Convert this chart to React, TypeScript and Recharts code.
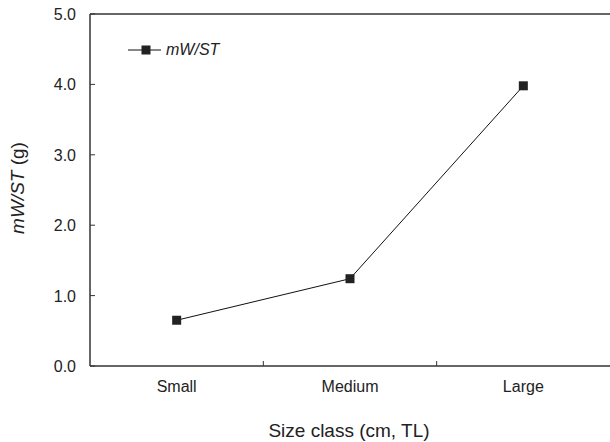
import { LineChart, Line, XAxis, YAxis, ReferenceLine } from "recharts";

const categories = ["Small", "Medium", "Large"];
const mwst = [0.65, 1.24, 3.98];
const yTicks = [0, 1, 2, 3, 4, 5];
const xTicks = [0.5, 1, 1.5, 2, 2.5];

const font = "'Liberation Sans', Arial, sans-serif";
const axisColor = "#333";
const textColor = "#222";

const data = categories.map((name, i) => ({ pos: i + 0.5, name, value: mwst[i] }));

const XTick = (props: any) => {
  const { x, y, payload } = props;
  if (Number.isInteger(payload.value)) {
    return <line x1={x} x2={x} y1={y} y2={y - 5} stroke={axisColor} strokeWidth={1} />;
  }
  return (
    <text x={x} y={y + 26} textAnchor="middle" fontSize={16} fontFamily={font} fill={textColor}>
      {categories[Math.floor(payload.value)]}
    </text>
  );
};

const YTick = (props: any) => {
  const { x, y, payload } = props;
  return (
    <g>
      <line x1={x} x2={x + 5} y1={y} y2={y} stroke={axisColor} strokeWidth={1} />
      <text x={x - 14} y={y + 6} textAnchor="end" fontSize={16} fontFamily={font} fill={textColor}>
        {payload.value.toFixed(1)}
      </text>
    </g>
  );
};

const Square = (props: any) => {
  const { cx, cy, index } = props;
  return <rect key={index} x={cx - 4.5} y={cy - 4.5} width={9} height={9} fill="#222" />;
};

// legend drawn as an overlay so it doesn't shift the plot area
const LegendBox = () => (
  <div
    style={{
      position: "absolute",
      left: 128,
      top: 39,
      display: "flex",
      alignItems: "center",
      fontFamily: font,
    }}
  >
    <svg width={34} height={12}>
      <line x1={0} x2={33} y1={6} y2={6} stroke="#111" strokeWidth={1} />
      <rect x={13.5} y={1.5} width={9} height={9} fill="#222" />
    </svg>
    <span style={{ fontStyle: "italic", fontSize: 16, color: textColor, marginLeft: 4, lineHeight: "22px" }}>
      mW/ST
    </span>
  </div>
);

export default function App() {
  return (
    <div style={{ position: "absolute", left: 0, top: 0, width: 610, height: 442, background: "#fff" }}>
      <LineChart width={610} height={442} data={data} margin={{ top: 14, right: 0, bottom: 46, left: 0 }}>
        <XAxis
          dataKey="pos"
          type="number"
          domain={[0, 3]}
          ticks={xTicks}
          height={30}
          tick={<XTick />}
          tickSize={0}
          tickMargin={0}
          tickLine={false}
          axisLine={{ stroke: axisColor, strokeWidth: 1.5 }}
          label={{
            content: () => (
              <text x={349} y={437} textAnchor="middle" fontSize={19} fontFamily={font} fill={textColor}>
                Size class (cm, TL)
              </text>
            ),
          }}
        />
        <YAxis
          type="number"
          domain={[0, 5]}
          ticks={yTicks}
          width={90}
          tick={<YTick />}
          tickSize={0}
          tickMargin={0}
          tickLine={false}
          axisLine={{ stroke: axisColor, strokeWidth: 1.5 }}
          label={{
            content: () => (
              <text
                x={24}
                y={188}
                textAnchor="middle"
                transform="rotate(-90 24 188)"
                fontSize={19}
                fontFamily={font}
                fill={textColor}
              >
                <tspan fontStyle="italic">mW/ST</tspan>
                <tspan> (g)</tspan>
              </text>
            ),
          }}
        />
        <ReferenceLine y={5} stroke={axisColor} strokeWidth={1.5} />
        <Line
          dataKey="value"
          name="mW/ST"
          stroke="#111"
          strokeWidth={1}
          dot={<Square />}
          activeDot={false}
          isAnimationActive={false}
        />
      </LineChart>
      <LegendBox />
    </div>
  );
}
